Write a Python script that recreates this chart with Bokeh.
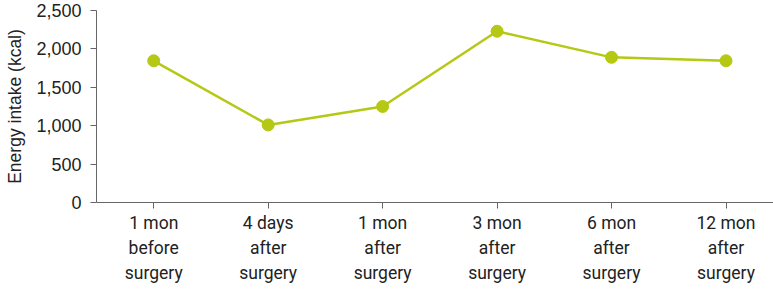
from bokeh.plotting import figure
from bokeh.models import FixedTicker, NumeralTickFormatter, Range1d
from bokeh.embed import file_html
from bokeh.resources import INLINE

categories = ["1 mon\nbefore\nsurgery", "4 days\nafter\nsurgery", "1 mon\nafter\nsurgery",
              "3 mon\nafter\nsurgery", "6 mon\nafter\nsurgery", "12 mon\nafter\nsurgery"]
energy = [1845, 1010, 1250, 2230, 1890, 1845]
y_ticks = [0, 500, 1000, 1500, 2000, 2500]

xs = list(range(len(categories)))
color = "#b4c814"

p = figure(width=773, height=290, output_backend="svg", toolbar_location=None,
           x_range=Range1d(-0.5, 5.415), y_range=Range1d(0, 2500),
           min_border_left=96, min_border_right=0, min_border_top=10, min_border_bottom=88)
p.outline_line_color = None
p.grid.visible = False
p.background_fill_color = "white"
p.border_fill_color = "white"

p.line(xs, energy, line_color=color, line_width=2.5)
p.scatter(xs, energy, size=12, fill_color=color, line_color=color)

p.xaxis.ticker = FixedTicker(ticks=xs)
p.xaxis.major_label_overrides = {i: c for i, c in enumerate(categories)}
p.yaxis.ticker = FixedTicker(ticks=y_ticks)
p.yaxis.formatter = NumeralTickFormatter(format="0,0")
p.yaxis.axis_label = "Energy intake (kcal)"

for ax in (p.xaxis[0], p.yaxis[0]):
    ax.axis_line_color = "#666666"
    ax.major_tick_line_color = "#666666"
    ax.minor_tick_line_color = None
    ax.major_tick_in = 0
    ax.major_tick_out = 6
    ax.major_label_text_color = "#222222"

p.xaxis.major_label_text_font = "Roboto"
p.xaxis.major_label_text_font_size = "17.5px"
p.xaxis.major_label_text_line_height = 1.25
p.xaxis.major_label_standoff = 4
p.yaxis.major_label_text_font = "Liberation Sans"
p.yaxis.major_label_text_font_size = "18px"
p.yaxis.major_label_standoff = 9
p.yaxis.axis_label_text_font = "Liberation Sans"
p.yaxis.axis_label_text_font_style = "normal"
p.yaxis.axis_label_text_font_size = "17.5px"
p.yaxis.axis_label_text_color = "#222222"
p.yaxis.axis_label_standoff = 8

open("out.html", "w").write(file_html(p, INLINE))
